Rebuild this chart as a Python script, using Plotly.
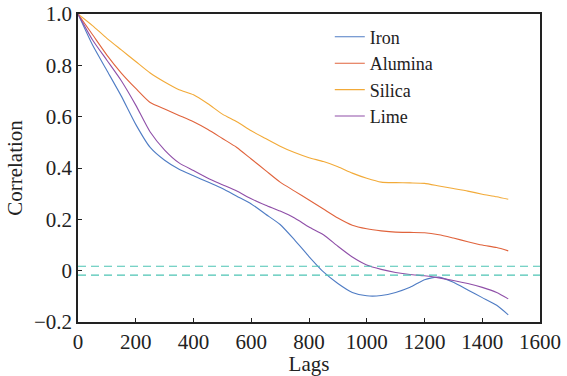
import plotly.graph_objects as go

lags = [0, 50, 100, 150, 200, 250, 300, 350, 400, 450, 500, 550, 600, 650, 700, 750,
        800, 850, 900, 950, 1000, 1050, 1100, 1150, 1200, 1250, 1300, 1350, 1400, 1450, 1490]

iron = [1.0, 0.88, 0.78, 0.68, 0.57, 0.48, 0.43, 0.395, 0.37, 0.345, 0.32, 0.29, 0.26, 0.22,
        0.18, 0.12, 0.055, -0.005, -0.05, -0.085, -0.098, -0.097, -0.085, -0.065, -0.035,
        -0.025, -0.045, -0.075, -0.105, -0.135, -0.172]
alumina = [1.0, 0.92, 0.84, 0.77, 0.71, 0.655, 0.63, 0.605, 0.58, 0.55, 0.515, 0.48, 0.435,
           0.39, 0.345, 0.31, 0.275, 0.24, 0.205, 0.177, 0.163, 0.155, 0.15, 0.149, 0.148,
           0.14, 0.127, 0.113, 0.1, 0.09, 0.077]
silica = [1.0, 0.955, 0.905, 0.86, 0.815, 0.77, 0.735, 0.705, 0.685, 0.65, 0.61, 0.58, 0.545,
          0.515, 0.485, 0.46, 0.44, 0.425, 0.405, 0.38, 0.36, 0.345, 0.343, 0.342, 0.34,
          0.33, 0.32, 0.31, 0.298, 0.288, 0.278]
lime = [1.0, 0.90, 0.82, 0.74, 0.645, 0.54, 0.47, 0.42, 0.39, 0.36, 0.335, 0.31, 0.28, 0.255,
        0.232, 0.205, 0.17, 0.14, 0.095, 0.053, 0.022, 0.005, -0.007, -0.015, -0.02, -0.028,
        -0.038, -0.05, -0.065, -0.085, -0.11]

series_names = ["Iron", "Alumina", "Silica", "Lime"]
series_values = [iron, alumina, silica, lime]
series_colors = ["#4f7cc4", "#e0633c", "#f2aa38", "#8f4fa8"]

bound_x = [0, 1600]
conf_bound = 0.0175

x_ticks = [0, 200, 400, 600, 800, 1000, 1200, 1400, 1600]
y_ticks = [-0.2, 0, 0.2, 0.4, 0.6, 0.8, 1.0]
y_ticktext = ["\u22120.2", "0", "0.2", "0.4", "0.6", "0.8", "1.0"]

FONT = "Liberation Serif"

fig = go.Figure()
for name, vals, col in zip(series_names, series_values, series_colors):
    fig.add_trace(go.Scatter(x=lags, y=vals, mode="lines", name=name,
                             line=dict(color=col, width=1.1, shape="spline", smoothing=0.6)))
for b in (conf_bound, -conf_bound):
    fig.add_trace(go.Scatter(x=bound_x, y=[b, b], mode="lines", showlegend=False,
                             line=dict(color="#4cc4b4", width=1.1, dash="8px,5px"),
                             hoverinfo="skip"))

fig.update_layout(
    width=567, height=376,
    margin=dict(l=78, r=27, t=14, b=54, autoexpand=False),
    paper_bgcolor="white", plot_bgcolor="white",
    font=dict(family=FONT, size=21, color="#222"),
    showlegend=True,
    legend=dict(x=0.545, y=0.985, xanchor="left", yanchor="top",
                bgcolor="rgba(0,0,0,0)", borderwidth=0,
                font=dict(family=FONT, size=18, color="#222"),
                itemwidth=30, tracegroupgap=0),
)
fig.update_xaxes(range=[0, 1600], tickvals=x_ticks, ticks="inside", ticklen=4,
                 tickwidth=1, tickcolor="#222", showline=True, linecolor="#222",
                 linewidth=1.5, mirror=True, showgrid=False, zeroline=False,
                 title=dict(text="Lags", font=dict(family=FONT, size=21), standoff=2),
                 tickfont=dict(family=FONT, size=21))
fig.update_yaxes(range=[-0.2, 1.0], tickvals=y_ticks, ticktext=y_ticktext, ticks="inside",
                 ticklen=4, tickwidth=1, tickcolor="#222", showline=True, linecolor="#222",
                 linewidth=1.5, mirror=True, showgrid=False, zeroline=False,
                 title=dict(text="Correlation", font=dict(family=FONT, size=21), standoff=6),
                 tickfont=dict(family=FONT, size=21))

fig.write_html("out.html")
